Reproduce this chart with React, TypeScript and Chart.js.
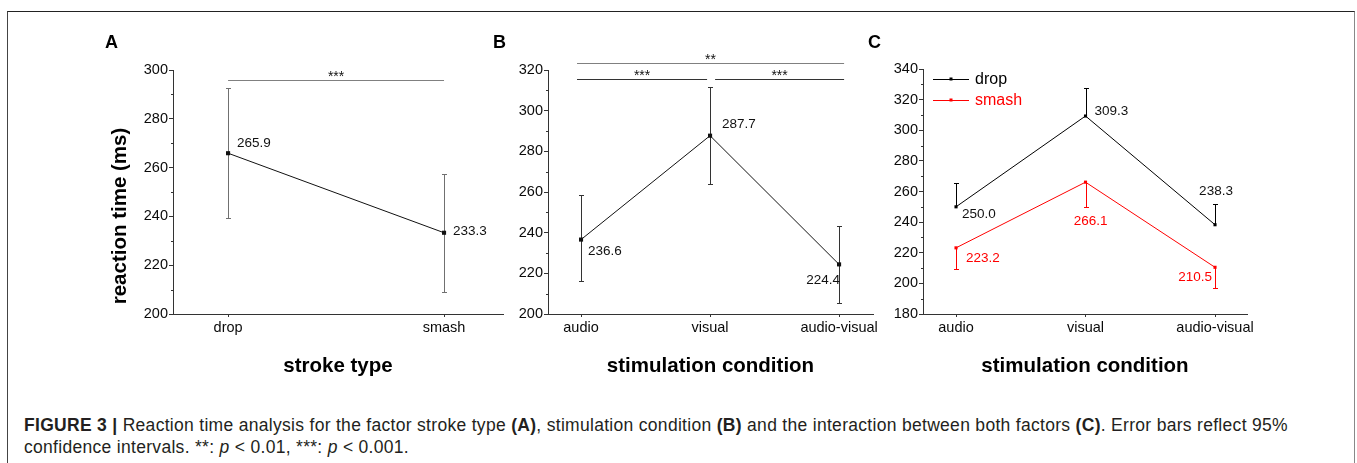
import React, { useEffect, useRef } from 'react';
import { Chart, registerables } from 'chart.js';

Chart.register(...registerables);

const FONT = '"Liberation Sans", Arial, Helvetica, sans-serif';
const AXIS = '#333333';
const RED = '#ff0000';

// ---------- Panel A: stroke type ----------
const strokeTypes = ['drop', 'smash'];
const strokeMeans = [265.9, 233.3];
const strokeCILow = [239.2, 209.0];
const strokeCIHigh = [292.5, 257.4];
const yTicksA = [200, 220, 240, 260, 280, 300];

// ---------- Panel B: stimulation condition ----------
const conditions = ['audio', 'visual', 'audio-visual'];
const conditionMeans = [236.6, 287.7, 224.4];
const conditionCILow = [216.2, 263.8, 205.4];
const conditionCIHigh = [258.5, 311.6, 243.5];
const yTicksB = [200, 220, 240, 260, 280, 300, 320];

// ---------- Panel C: interaction ----------
const dropMeans = [250.0, 309.3, 238.3];
const dropCIHigh = [265.3, 327.4, 252.1];
const smashMeans = [223.2, 266.1, 210.5];
const smashCILow = [209.4, 249.7, 197.0];
const yTicksC = [180, 200, 220, 240, 260, 280, 300, 320, 340];

// ---------- significance brackets ----------
const sigA = [{ from: 1, to: 2, level: 295.9, text: '***', color: '#808080' }];
const sigB = [
  { from: 0.969, to: 3.039, level: 323.3, text: '**', color: '#808080' },
  { from: 0.969, to: 1.977, level: 315.4, text: '***', color: '#333333' },
  { from: 2.039, to: 3.039, level: 315.4, text: '***', color: '#333333' },
];

type Align = 'left' | 'right' | 'center';
interface LabelPos { dx: number; dy: number; align: Align }
interface Series {
  name: string;
  means: number[];
  low: number[] | null;
  high: number[] | null;
  color: string;
  errColor: string;
  pointRadius: number;
  labelPos: LabelPos[];
}
interface Sig { from: number; to: number; level: number; text: string; color: string }
interface PanelSpec {
  left: number; top: number; width: number; height: number;
  area: { left: number; top: number; right: number; bottom: number };
  cats: string[];
  xMin: number; xMax: number;
  yTicks: number[];
  xTitle: string;
  yTitle?: string;
  yTitlePos?: { x: number; y: number };
  series: Series[];
  sig: Sig[];
  legend?: boolean;
}

const panelA: PanelSpec = {
  left: 90, top: 30, width: 430, height: 350,
  area: { left: 83, top: 40, right: 413, bottom: 284 },
  cats: strokeTypes, xMin: 0.745, xMax: 2.273,
  yTicks: yTicksA,
  xTitle: 'stroke type', yTitle: 'reaction time (ms)', yTitlePos: { x: 35.5, y: 186 },
  series: [{
    name: 'stroke', means: strokeMeans, low: strokeCILow, high: strokeCIHigh,
    color: '#111111', errColor: '#707070', pointRadius: 2.9,
    labelPos: [{ dx: 9, dy: -10, align: 'left' }, { dx: 9, dy: -1, align: 'left' }],
  }],
  sig: sigA,
};

const panelB: PanelSpec = {
  left: 500, top: 30, width: 390, height: 350,
  area: { left: 48, top: 40, right: 373, bottom: 284 },
  cats: conditions, xMin: 0.744, xMax: 3.263,
  yTicks: yTicksB,
  xTitle: 'stimulation condition',
  series: [{
    name: 'condition', means: conditionMeans, low: conditionCILow, high: conditionCIHigh,
    color: '#111111', errColor: '#333333', pointRadius: 2.9,
    labelPos: [
      { dx: 7, dy: 12, align: 'left' },
      { dx: 12, dy: -11, align: 'left' },
      { dx: 1, dy: 16, align: 'right' },
    ],
  }],
  sig: sigB,
};

const panelC: PanelSpec = {
  left: 875, top: 30, width: 400, height: 350,
  area: { left: 48, top: 39, right: 372, bottom: 284 },
  cats: conditions, xMin: 0.745, xMax: 3.247,
  yTicks: yTicksC,
  xTitle: 'stimulation condition',
  series: [
    {
      name: 'drop', means: dropMeans, low: null, high: dropCIHigh,
      color: '#000000', errColor: '#000000', pointRadius: 2.2,
      labelPos: [
        { dx: 6, dy: 7, align: 'left' },
        { dx: 9, dy: -5, align: 'left' },
        { dx: 1, dy: -33, align: 'center' },
      ],
    },
    {
      name: 'smash', means: smashMeans, low: smashCILow, high: null,
      color: RED, errColor: RED, pointRadius: 2.2,
      labelPos: [
        { dx: 10, dy: 10, align: 'left' },
        { dx: 5, dy: 39, align: 'center' },
        { dx: -3, dy: 10, align: 'right' },
      ],
    },
  ],
  sig: [],
  legend: true,
};

function decorPlugin(p: PanelSpec) {
  return {
    id: 'decor',
    beforeDatasetsDraw(chart: any) {
      const ctx = chart.ctx as CanvasRenderingContext2D;
      const xs = chart.scales.x;
      const ys = chart.scales.y;
      const area = chart.chartArea;
      ctx.save();
      ctx.lineWidth = 1;
      // minor ticks on the y axis
      ctx.strokeStyle = AXIS;
      for (let k = 0; k < p.yTicks.length - 1; k++) {
        const v = (p.yTicks[k] + p.yTicks[k + 1]) / 2;
        const y = Math.round(ys.getPixelForValue(v)) + 0.5;
        ctx.beginPath();
        ctx.moveTo(area.left - 2, y);
        ctx.lineTo(area.left, y);
        ctx.stroke();
      }
      // error bars
      p.series.forEach((s) => {
        ctx.strokeStyle = s.errColor;
        s.means.forEach((m, i) => {
          const x = Math.round(xs.getPixelForValue(i + 1)) + 0.5;
          const hi = s.high ? s.high[i] : m;
          const lo = s.low ? s.low[i] : m;
          const y1 = Math.round(ys.getPixelForValue(hi)) + 0.5;
          const y2 = Math.round(ys.getPixelForValue(lo)) + 0.5;
          ctx.beginPath();
          ctx.moveTo(x, y1);
          ctx.lineTo(x, y2);
          if (s.high) { ctx.moveTo(x - 2.5, y1); ctx.lineTo(x + 2.5, y1); }
          if (s.low) { ctx.moveTo(x - 2.5, y2); ctx.lineTo(x + 2.5, y2); }
          ctx.stroke();
        });
      });
      ctx.restore();
    },
    afterDatasetsDraw(chart: any) {
      const ctx = chart.ctx as CanvasRenderingContext2D;
      const xs = chart.scales.x;
      const ys = chart.scales.y;
      const area = chart.chartArea;
      ctx.save();
      // y-axis title
      if (p.yTitle && p.yTitlePos) {
        ctx.save();
        ctx.translate(p.yTitlePos.x, p.yTitlePos.y);
        ctx.rotate(-Math.PI / 2);
        ctx.font = `bold 20.5px ${FONT}`;
        ctx.fillStyle = '#000000';
        ctx.textAlign = 'center';
        ctx.textBaseline = 'alphabetic';
        ctx.fillText(p.yTitle, 0, 0);
        ctx.restore();
      }
      // value labels
      ctx.font = `13.5px ${FONT}`;
      ctx.textBaseline = 'middle';
      p.series.forEach((s) => {
        ctx.fillStyle = s.color === RED ? RED : '#111111';
        s.means.forEach((m, i) => {
          const lp = s.labelPos[i];
          const x = xs.getPixelForValue(i + 1) + lp.dx;
          const y = ys.getPixelForValue(m) + lp.dy;
          ctx.textAlign = lp.align;
          ctx.fillText(m.toFixed(1), x, y);
        });
      });
      // significance brackets
      p.sig.forEach((g) => {
        const x1 = xs.getPixelForValue(g.from);
        const x2 = xs.getPixelForValue(g.to);
        const y = Math.round(ys.getPixelForValue(g.level)) + 0.5;
        ctx.strokeStyle = g.color;
        ctx.lineWidth = 1;
        ctx.beginPath();
        ctx.moveTo(x1, y);
        ctx.lineTo(x2, y);
        ctx.stroke();
        ctx.fillStyle = '#111111';
        ctx.font = `14px ${FONT}`;
        ctx.textAlign = 'center';
        ctx.textBaseline = 'alphabetic';
        ctx.fillText(g.text, (x1 + x2) / 2, y + 0.5);
      });
      // legend
      if (p.legend) {
        p.series.forEach((s, k) => {
          const y = Math.round(area.top + 10 + k * 21) + 0.5;
          const x0 = area.left + 10;
          ctx.strokeStyle = s.color;
          ctx.lineWidth = 1;
          ctx.beginPath();
          ctx.moveTo(x0, y);
          ctx.lineTo(x0 + 36, y);
          ctx.stroke();
          ctx.fillStyle = s.color;
          ctx.fillRect(x0 + 16.5, y - 2, 3, 3);
          ctx.fillStyle = s.color === RED ? RED : '#000000';
          ctx.font = `16px ${FONT}`;
          ctx.textAlign = 'left';
          ctx.textBaseline = 'middle';
          ctx.fillText(s.name, x0 + 42, y);
        });
      }
      ctx.restore();
    },
  };
}

function buildConfig(p: PanelSpec): any {
  const tickFont = { family: FONT, size: 14.5 };
  const titleFont = { family: FONT, size: 20.5, weight: 'bold' as const };
  return {
    type: 'line',
    data: {
      datasets: p.series.map((s) => ({
        label: s.name,
        data: s.means.map((v, i) => ({ x: i + 1, y: v })),
        borderColor: s.color,
        borderWidth: 1,
        pointStyle: 'rect',
        pointRadius: s.pointRadius,
        pointBackgroundColor: s.color,
        pointBorderWidth: 0,
        tension: 0,
        fill: false,
      })),
    },
    options: {
      animation: false,
      responsive: false,
      maintainAspectRatio: false,
      events: [],
      layout: {
        padding: { left: 0, top: p.area.top, right: p.width - p.area.right, bottom: 0 },
      },
      plugins: {
        legend: { display: false },
        tooltip: { enabled: false },
        title: { display: false },
      },
      scales: {
        x: {
          type: 'linear',
          min: p.xMin,
          max: p.xMax,
          afterBuildTicks: (s: any) => { s.ticks = p.cats.map((_, i) => ({ value: i + 1 })); },
          afterFit: (s: any) => { s.height = p.height - p.area.bottom; },
          ticks: {
            autoSkip: false,
            maxRotation: 0,
            padding: 2,
            font: tickFont,
            color: '#0a0a0a',
            callback: (v: number) => p.cats[Math.round(v) - 1] ?? '',
          },
          grid: { drawOnChartArea: false, drawTicks: true, tickLength: 3, color: AXIS },
          border: { display: true, color: AXIS, width: 1 },
          title: {
            display: true,
            text: p.xTitle,
            font: titleFont,
            color: '#000000',
            padding: { top: 0, bottom: 1.2 },
          },
        },
        y: {
          type: 'linear',
          min: p.yTicks[0],
          max: p.yTicks[p.yTicks.length - 1],
          afterBuildTicks: (s: any) => { s.ticks = p.yTicks.map((v) => ({ value: v })); },
          afterFit: (s: any) => { s.width = p.area.left; },
          ticks: { padding: 1, font: tickFont, color: '#0a0a0a' },
          grid: { drawOnChartArea: false, drawTicks: true, tickLength: 4, color: AXIS },
          border: { display: true, color: AXIS, width: 1 },
          title: { display: false },
        },
      },
    },
    plugins: [decorPlugin(p)],
  };
}

function Panel({ spec }: { spec: PanelSpec }) {
  const ref = useRef<HTMLCanvasElement>(null);
  useEffect(() => {
    const chart = new Chart(ref.current as HTMLCanvasElement, buildConfig(spec));
    return () => chart.destroy();
  }, [spec]);
  return (
    <canvas
      ref={ref}
      width={spec.width}
      height={spec.height}
      style={{ position: 'absolute', left: spec.left, top: spec.top, width: spec.width, height: spec.height }}
    />
  );
}

const letterStyle: React.CSSProperties = {
  position: 'absolute',
  font: `bold 18px ${FONT}`,
  lineHeight: '18px',
  color: '#000',
};

export default function App() {
  return (
    <div style={{ position: 'absolute', left: 0, top: 0, width: 1357, height: 463, overflow: 'hidden', background: '#fff' }}>
      <div
        style={{
          position: 'absolute', left: 7, top: 11, width: 1346, height: 470,
          borderTop: '1px solid #222', borderLeft: '1px solid #444', borderRight: '1px solid #888',
        }}
      />
      <Panel spec={panelA} />
      <Panel spec={panelB} />
      <Panel spec={panelC} />
      <div style={{ ...letterStyle, left: 105, top: 33 }}>A</div>
      <div style={{ ...letterStyle, left: 493, top: 33 }}>B</div>
      <div style={{ ...letterStyle, left: 868, top: 33 }}>C</div>
      <div
        style={{
          position: 'absolute', left: 24, top: 414,
          font: `17.5px ${FONT}`, letterSpacing: '0.3px', lineHeight: '22px', color: '#231f20', whiteSpace: 'nowrap',
        }}
      >
        <b>FIGURE 3 |</b> Reaction time analysis for the factor stroke type <b>(A)</b>, stimulation condition <b>(B)</b> and
        the interaction between both factors <b>(C)</b>. Error bars reflect 95%
        <br />
        confidence intervals. **: <i>p</i> &lt; 0.01, ***: <i>p</i> &lt; 0.001.
      </div>
    </div>
  );
}
